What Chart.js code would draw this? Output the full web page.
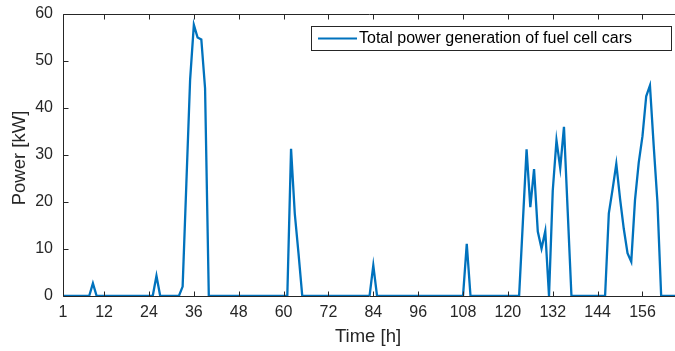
<!DOCTYPE html>
<html>
<head>
<meta charset="utf-8">
<script src="https://cdn.jsdelivr.net/npm/chart.js@4"></script>
<style>
  html, body { margin: 0; padding: 0; background: #fff; overflow: hidden; }
  canvas { display: block; }
</style>
</head>
<body>
<canvas id="c" width="675" height="351"></canvas>
<script>
// Total power generation of fuel cell cars, one value per hour (1..168)
var power = [
  0, 0, 0, 0, 0, 0, 0, 0, 2.7, 0, 0, 0,
  0, 0, 0, 0, 0, 0, 0, 0, 0, 0, 0, 0,
  0, 4.3, 0, 0, 0, 0, 0, 0, 2.0, 24, 46, 57.7,
  55, 54.6, 44.2, 0, 0, 0, 0, 0, 0, 0, 0, 0,
  0, 0, 0, 0, 0, 0, 0, 0, 0, 0, 0, 0,
  0, 31.3, 17.5, 9, 0, 0, 0, 0, 0, 0, 0, 0,
  0, 0, 0, 0, 0, 0, 0, 0, 0, 0, 0, 6.5,
  0, 0, 0, 0, 0, 0, 0, 0, 0, 0, 0, 0,
  0, 0, 0, 0, 0, 0, 0, 0, 0, 0, 0, 0,
  11.1, 0, 0, 0, 0, 0, 0, 0, 0, 0, 0, 0,
  0, 0, 0, 15.6, 31.2, 18.9, 27, 13.7, 10.1, 13.8, 0, 22.4,
  33.1, 27.2, 36, 18, 0, 0, 0, 0, 0, 0, 0, 0,
  0, 0, 17.6, 22.7, 28.1, 20.7, 14.3, 9.1, 7.3, 20.4, 28.4, 34,
  42.5, 44.8, 32, 20, 0, 0, 0, 0, 0, 0, 0, 0
];
var xTicks = [1, 12, 24, 36, 48, 60, 72, 84, 96, 108, 120, 132, 144, 156];
var yTicks = [0, 10, 20, 30, 40, 50, 60];
var xMin = 1;
var xMax = 164.7;   // the picture is cut off here, before hour 168
var seriesLabel = 'Total power generation of fuel cell cars';
var xTitle = 'Time [h]';
var yTitle = 'Power [kW]';

var LINE = '#0072BD';
var AXIS = '#262626';
var FONT = '"Liberation Sans", Arial, Helvetica, sans-serif';

var points = power.map(function(v, i) { return { x: i + 1, y: v }; });

// MATLAB-like box, inward ticks, axis titles and legend
var matlabAxes = {
  id: 'matlabAxes',
  afterDraw: function(chart) {
    var ctx = chart.ctx, a = chart.chartArea;
    var xs = chart.scales.x, ys = chart.scales.y;
    var L = Math.round(a.left) + 0.5, R = Math.round(a.right) + 0.5;
    var T = Math.round(a.top) + 0.5, B = Math.round(a.bottom) + 0.5;
    ctx.save();
    ctx.strokeStyle = AXIS;
    ctx.lineWidth = 1;
    ctx.beginPath();
    ctx.rect(L, T, R - L, B - T);
    xTicks.forEach(function(t) {
      var px = Math.round(xs.getPixelForValue(t)) + 0.5;
      ctx.moveTo(px, B); ctx.lineTo(px, B - 5);
      ctx.moveTo(px, T); ctx.lineTo(px, T + 5);
    });
    yTicks.forEach(function(t) {
      var py = Math.round(ys.getPixelForValue(t)) + 0.5;
      ctx.moveTo(L, py); ctx.lineTo(L + 5, py);
    });
    ctx.stroke();

    // axis titles
    ctx.fillStyle = AXIS;
    ctx.font = '18.5px ' + FONT;
    ctx.textAlign = 'center';
    ctx.textBaseline = 'middle';
    ctx.fillText(xTitle, 368, 337);
    ctx.translate(20, 158);
    ctx.rotate(-Math.PI / 2);
    ctx.fillText(yTitle, 0, 0);
    ctx.restore();

    // legend
    ctx.save();
    ctx.fillStyle = '#fff';
    ctx.fillRect(311.5, 26.5, 360, 24);
    ctx.strokeStyle = AXIS;
    ctx.lineWidth = 1;
    ctx.strokeRect(311.5, 26.5, 360, 24);
    ctx.strokeStyle = LINE;
    ctx.lineWidth = 2.2;
    ctx.beginPath();
    ctx.moveTo(318, 38.5); ctx.lineTo(357, 38.5);
    ctx.stroke();
    ctx.fillStyle = '#000';
    ctx.font = '16px ' + FONT;
    ctx.textAlign = 'left';
    ctx.textBaseline = 'middle';
    ctx.fillText(seriesLabel, 359, 39);
    ctx.restore();
  }
};

new Chart(document.getElementById('c'), {
  type: 'line',
  data: {
    datasets: [{
      label: seriesLabel,
      data: points,
      borderColor: LINE,
      backgroundColor: LINE,
      borderWidth: 2.3,
      pointRadius: 0,
      tension: 0,
      fill: false
    }]
  },
  options: {
    responsive: false,
    animation: false,
    layout: { padding: { top: 14, right: 0, bottom: 0, left: 0 } },
    plugins: { legend: { display: false }, tooltip: { enabled: false } },
    scales: {
      x: {
        type: 'linear',
        min: xMin,
        max: xMax,
        afterBuildTicks: function(s) { s.ticks = xTicks.map(function(v) { return { value: v }; }); },
        afterFit: function(s) { s.height = 55; s.paddingLeft = 0; s.paddingRight = 0; },
        grid: { display: false, drawTicks: false },
        border: { display: false },
        ticks: { color: AXIS, font: { family: FONT, size: 16 }, padding: 7, maxRotation: 0, autoSkip: false }
      },
      y: {
        min: 0,
        max: 60,
        afterBuildTicks: function(s) { s.ticks = yTicks.map(function(v) { return { value: v }; }); },
        // keep the label overhang from pushing the plot area down
        afterFit: function(s) { s.width = 63; s.paddingTop = 0; s.paddingBottom = 0; },
        grid: { display: false, drawTicks: false },
        border: { display: false },
        ticks: { color: AXIS, font: { family: FONT, size: 16 }, padding: 10 }
      }
    }
  },
  plugins: [matlabAxes]
});
</script>
</body>
</html>
